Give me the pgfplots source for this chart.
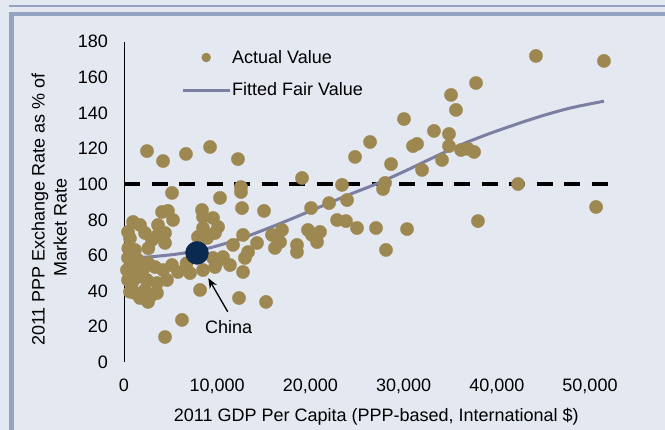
\documentclass[border=0pt]{standalone}
\usepackage{pgfplots}
\pgfplotsset{compat=1.18}
\usepackage{fontspec}
\setmainfont{Liberation Sans}
\usetikzlibrary{arrows.meta}
\definecolor{bgc}{RGB}{228,232,241}
\definecolor{framec}{RGB}{149,163,194}
\definecolor{dotc}{RGB}{158,136,82}
\definecolor{linec}{RGB}{124,126,162}
\definecolor{chinac}{RGB}{10,42,80}
\newcommand{\chartfont}{\fontsize{18bp}{22bp}\selectfont}
\pgfplotsset{
  dotlegend/.style={legend image code/.code={\path[draw=none, fill=none] (0bp,0bp) -- (47bp,0bp); \draw[##1, mark size=4.5bp] plot coordinates {(23.5bp,0bp)};}},
  linelegend/.style={legend image code/.code={\draw[##1] (0bp,0bp) -- (47bp,0bp);}},
}
\begin{document}
\begin{tikzpicture}
\path[use as bounding box, fill=bgc] (0,0) rectangle (665bp,430bp);
\fill[framec] (9bp,422.5bp) rectangle (665bp,424.5bp);
\fill[framec] (9bp,413.5bp) rectangle (665bp,417.5bp);
\fill[framec] (9bp,0bp) rectangle (14bp,417.5bp);
\begin{axis}[
  at={(124bp,67.7bp)}, anchor=south west,
  scale only axis, width=512.6bp, height=320.6bp,
  xmin=0, xmax=55000, ymin=0, ymax=180,
  clip=false, axis on top,
  axis y line=left, axis x line=bottom,
  x axis line style={draw=none},
  y axis line style={-, black, line width=0.8bp},
  major tick length=0pt,
  xtick={0,10000,20000,30000,40000,50000},
  ytick={0,20,...,180},
  scaled x ticks=false,
  xticklabel style={/pgf/number format/1000 sep={,}},
  /pgf/number format/assume math mode=true,
  tick label style={font=\chartfont, inner sep=0pt},
  yticklabel style={anchor=east, xshift=-16bp},
  xticklabel style={anchor=base, yshift=-28.7bp},
  xlabel={2011 GDP Per Capita (PPP-based, International \$)},
  xlabel style={at={(axis description cs:0.4922,-0.1847)}, anchor=base, inner sep=0pt, font=\chartfont},
  ylabel={2011 PPP Exchange Rate as \% of\\Market Rate\hspace*{36bp}\mbox{}},
  ylabel style={at={(axis description cs:-0.1112,0.4766)}, anchor=south, align=center, inner sep=0pt, font=\chartfont},
  legend style={at={(axis description cs:0.1112,0.974)}, anchor=north west, draw=none, fill=none, inner sep=0pt, row sep=18bp, column sep=1bp, font=\chartfont, nodes={inner sep=0pt}},
  legend cell align=left,
]
\addplot[black, line width=3.5bp, dash pattern=on 16bp off 11.5bp, forget plot] coordinates {(0,100) (51900,100)};
\addplot[only marks, mark=*, color=dotc, mark size=6.6bp, mark options={fill=dotc, draw=dotc}, dotlegend]
coordinates {
(44200,172.0) (51500,169.2) (37770,156.8) (35090,150.1) (35620,141.7) (30040,136.6)
(33260,129.9) (34870,128.2) (34870,121.4) (36160,119.2) (36910,119.8) (37560,118.1)
(31010,121.4) (31440,122.6) (26400,123.7) (24790,115.3) (34120,113.6) (31980,108.0)
(28650,111.3) (19100,103.5) (23390,99.6) (28010,100.7) (27790,97.3) (22000,89.4)
(23930,91.1) (20070,86.6) (22860,79.9) (23820,79.3) (25000,75.4) (27040,75.4)
(30370,74.8) (28110,63.1) (37980,79.3) (42280,100.1) (50650,87.2)
(16950,74.3) (15880,71.5) (19740,74.3) (21030,73.2) (20710,67.5) (20170,71.5)
(16200,64.2) (18560,65.9) (18560,61.9) (16740,67.5) (14270,67.0) (12770,71.5)
(11700,65.9) (13310,61.9) (12980,58.6) (10620,59.1) (9980,56.3) (11370,54.6)
(12770,50.7) (9550,58.6) (10300,92.3) (12660,86.6) (15020,85.0) (9550,81.0)
(10090,76.0) (8480,75.4) (8910,69.8) (12550,98.4) (12550,95.6) (8480,81.6)
(2470,118.6) (4190,113.0) (6650,117.0) (9230,120.9) (12230,114.1) (5150,95.1)
(4080,84.4) (4720,85.0) (8370,85.5) (5260,79.9) (3650,77.1) (4400,72.6)
(4400,67.0) (3000,68.7) (970,78.8) (1720,77.1) (430,73.2) (2250,72.6)
(640,69.6) (1180,63.1) (320,51.8) (970,53.5) (1500,47.9) (860,44.5)
(2470,46.2) (2250,40.6) (1180,38.9) (1720,36.1) (2580,33.9) (3540,38.9)
(3540,44.5) (4610,46.2) (4190,51.8) (5150,54.6) (5790,50.7) (7080,50.1)
(9760,72.6) (7940,70.4) (9760,53.5) (8160,40.6) (2580,55.8) (3330,53.5)
(12340,36.1) (15240,33.9) (6220,23.8) (4400,14.2) (430,58.6) (2040,51.8)
(430,46.2) (3000,37.8) (8480,51.8)
(460,64.0) (2610,64.0) (6720,55.6) (640,39.6) (3650,71.5) (1500,57.5)
};
\addplot[linec, line width=3bp, smooth, linelegend]
coordinates {
(0,58.3) (3000,59.3) (6000,61.0) (9000,64.0) (12000,68.5) (15000,74.3)
(18000,80.6) (21000,87.2) (24000,93.8) (27000,100.0) (30000,107.0) (33000,114.5)
(36000,121.8) (39000,128.0) (42000,133.5) (45000,138.6) (48000,142.9) (51500,146.6)
};
\addplot[only marks, mark=*, color=chinac, mark size=11.5bp, mark options={fill=chinac, draw=chinac}, forget plot]
coordinates {(7833,61.4)};
\legend{Actual Value, Fitted Fair Value}
\draw[-{Stealth[length=10bp,width=8bp]}, line width=1.3bp] (axis cs:11127,28.4) -- (axis cs:9046,47.2);
\node[anchor=base, font=\chartfont, inner sep=0pt] at (axis cs:11234,15.9) {China};
\end{axis}
\end{tikzpicture}
\end{document}
